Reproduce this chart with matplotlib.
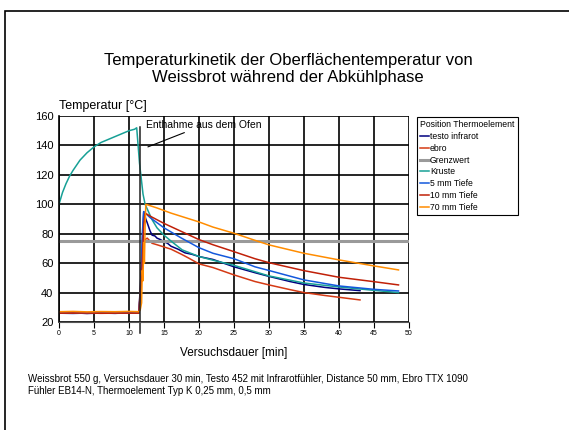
import numpy as np
import matplotlib
matplotlib.use("Agg")
import matplotlib.pyplot as plt
from matplotlib.patches import Rectangle

plt.rcParams['font.family'] = ['Liberation Sans', 'DejaVu Sans']

# --- data ---------------------------------------------------------------
pre_t = [0, 2, 4, 6, 8, 10, 11.4]

testo_t = pre_t + [11.8, 12.1, 12.4, 12.6, 13.0, 13.3, 13.7, 14.0, 14.5, 15, 15.5, 16, 17,
                   18, 19, 20, 22, 25, 28, 30, 33, 35, 38, 40, 43]
testo_T = [26, 26.2, 25.8, 26.1, 25.9, 26.2, 26, 60, 95, 90, 87.5, 82, 79, 78.5, 77, 76,
           74.5, 73.5, 71.5, 69.5, 67, 66, 64.5, 62.5, 57.5, 53.5, 51, 47.5, 45.5, 43.5, 42.5, 41.3]

ebro_t = pre_t + [11.7, 12.0, 12.3, 12.6, 13.3, 14, 15, 16, 17.5, 18.5, 20, 22, 25, 28,
                  30, 33, 35, 38, 40, 43]
ebro_T = [26, 26.1, 25.9, 26.2, 26, 26.1, 26, 48, 72, 76, 77, 73.5, 72.5, 71, 69.5, 66,
          63.5, 59.5, 57, 52, 47.5, 45.2, 42, 40, 38, 36.8, 35]

grenz_t = [0, 50]
grenz_T = [75, 75]

kruste_t = [0, 0.5, 1, 1.5, 2, 3, 4, 5, 6, 7, 8, 9, 10, 10.8, 11.1, 11.5, 12.0, 12.3,
            13.3, 14, 15, 16, 17.6, 20, 22, 25, 30, 35, 40, 45, 48.5]
kruste_T = [100, 108, 114, 119, 123, 130, 135, 139, 142, 144, 146, 148, 150, 151, 152, 128,
            107, 100, 89.5, 84, 79, 75, 69, 64.5, 62, 58.5, 51.3, 46.5, 43.8, 41.5, 40]

mm5_t = pre_t + [11.7, 11.9, 12.1, 13, 15, 17.5, 20, 22, 25, 28, 30, 35, 40, 45, 48.5]
mm5_T = [26, 25.8, 26.1, 26, 25.9, 26.1, 26, 45, 80, 95, 91, 84, 77, 70.5, 66.7, 63,
         57.5, 55, 48.6, 44.5, 42.2, 41.1]

mm10_t = pre_t + [11.8, 12.1, 12.3, 13, 15, 17.5, 20, 22, 25, 28, 30, 35, 40, 45, 48.5]
mm10_T = [26, 26, 26.1, 25.9, 26, 26, 26, 50, 85, 94, 92, 87, 81.5, 76, 72.5, 67.8, 63,
          60.3, 54.9, 50.4, 47.4, 45.2]

mm70_t = pre_t + [11.6, 11.8, 11.9, 12.0, 12.1, 12.2, 12.3, 12.4, 14, 16, 18, 20, 22, 25,
                  28, 30, 35, 40, 45, 48.5]
mm70_T = [27, 27.2, 26.9, 27.1, 27, 27.2, 27, 28, 33, 55, 48, 74, 60, 85, 100, 97.5, 94,
          91, 88, 84.5, 80.3, 75.5, 72.4, 66.7, 62.2, 58.1, 55.4]

series = [
    ("testo infrarot", testo_t, testo_T, "#000080", 1.1),
    ("ebro", ebro_t, ebro_T, "#d43a14", 1.1),
    ("Grenzwert", grenz_t, grenz_T, "#9a9a9a", 2.2),
    ("Kruste", kruste_t, kruste_T, "#17a096", 1.1),
    ("5 mm Tiefe", mm5_t, mm5_T, "#1458dc", 1.1),
    ("10 mm Tiefe", mm10_t, mm10_T, "#c02008", 1.1),
    ("70 mm Tiefe", mm70_t, mm70_T, "#ff8c00", 1.1),
]

t_removal = 11.55
removal_label = "Enthahme aus dem Ofen"

# --- figure -------------------------------------------------------------
W, H = 569, 430
fig = plt.figure(figsize=(W / 100, H / 100), dpi=100)
ax = fig.add_axes([59 / W, 1 - 322 / H, 350 / W, 206 / H])

for label, t, T, color, lw in series:
    ax.plot(t, T, color=color, lw=lw, label=label)

ax.set_xlim(0, 50)
ax.set_ylim(20, 160)
ax.set_xticks(np.arange(0, 51, 5))
ax.set_yticks(np.arange(20, 161, 20))
ax.grid(True, color="black", lw=1.2)
ax.set_axisbelow(True)
ax.tick_params(axis="x", labelsize=5, length=4, width=0.8, pad=2)
ax.tick_params(axis="y", labelsize=8, length=0, pad=4)
for side in ["top", "right"]:
    ax.spines[side].set_visible(False)
ax.spines["left"].set_linewidth(1.2)
ax.spines["bottom"].set_linewidth(0.8)
ax.spines["bottom"].set_color("#555555")

# removal marker
ax.plot([t_removal, t_removal], [12.5, 152.7], color="#222222", lw=1.1, clip_on=False)
ax.annotate(removal_label, xy=(12.7, 139), xytext=(12.5, 154), fontsize=7.5,
            va="center", ha="left",
            arrowprops=dict(arrowstyle="-", color="black", lw=0.8, shrinkA=0, shrinkB=0))

fig.text(59 / W, 1 - 106 / H, "Temperatur [°C]", fontsize=9, ha="left", va="center")
fig.text(234 / W, 1 - 353 / H, "Versuchsdauer [min]", fontsize=8.5, ha="center", va="center")
fig.text(288 / W, 1 - 69 / H,
         "Temperaturkinetik der Oberflächentemperatur von\nWeissbrot während der Abkühlphase",
         fontsize=12, ha="center", va="center", linespacing=1.12)
fig.text(28 / W, 1 - 385 / H,
         "Weissbrot 550 g, Versuchsdauer 30 min, Testo 452 mit Infrarotfühler, Distance 50 mm, Ebro TTX 1090\n"
         "Fühler EB14-N, Thermoelement Typ K 0,25 mm, 0,5 mm",
         fontsize=7, ha="left", va="center", linespacing=1.15)

leg = ax.legend(title="Position Thermoelement", loc="upper left",
                bbox_to_anchor=(417 / W, 1 - 117 / H), bbox_transform=fig.transFigure,
                fontsize=6.2, title_fontsize=6.2, handlelength=1.0, handletextpad=0.1,
                labelspacing=0.32, borderpad=0.4, fancybox=False, framealpha=1,
                edgecolor="black", borderaxespad=0)
leg.get_frame().set_linewidth(0.8)
leg._legend_box.align = "left"

# page frame (top and left edges visible)
fig.add_artist(Rectangle((5 / W, -0.2), 1.5, 1 - 11 / H + 0.2, transform=fig.transFigure,
                         fill=False, edgecolor="black", lw=1.2, clip_on=False))

fig.savefig("out.png", dpi=100)
